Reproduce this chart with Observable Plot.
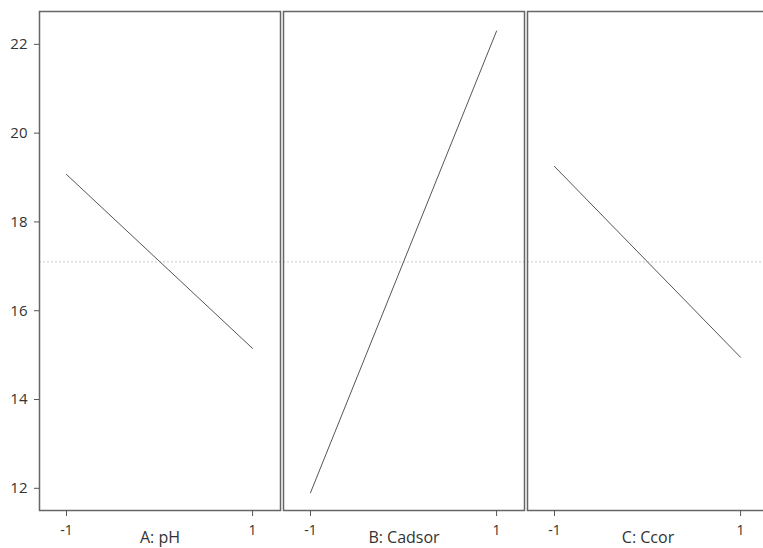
<!DOCTYPE html>
<html>
<head>
<meta charset="utf-8">
<script src="https://cdn.jsdelivr.net/npm/d3@7"></script>
<script src="https://cdn.jsdelivr.net/npm/@observablehq/plot@0.6"></script>
<style>
  html, body { margin: 0; padding: 0; background: #fff; overflow: hidden; }
  #chart { width: 763px; height: 548px; overflow: hidden; }
  #chart svg { max-width: none !important; }
</style>
</head>
<body>
<div id="chart"></div>
<script>
// Factors (one panel each) and their coded levels
const factors = ["A: pH", "B: Cadsor", "C: Ccor"];
const levels = [-1, 1];
// Predicted response at low (-1) and high (+1) levels of each factor
const lowValues = [19.07, 11.9, 19.25];
const highValues = [15.15, 22.3, 14.95];
// Overall mean response (dotted reference line)
const meanValue = 17.1;
// Axis ticks
const yTicks = [12, 14, 16, 18, 20, 22];
const xTicks = [-1, 1];

const data = factors.flatMap((f, i) => [
  {factor: f, level: levels[0], value: lowValues[i]},
  {factor: f, level: levels[1], value: highValues[i]}
]);

const chart = Plot.plot({
  width: 770,
  height: 548,
  marginLeft: 38,
  marginRight: 0,
  marginTop: 11,
  marginBottom: 38,
  style: {fontFamily: "'Open Sans', sans-serif", fontSize: "15px", color: "#333", background: "#fff"},
  fx: {domain: factors, paddingInner: 0.012, paddingOuter: 0, label: null},
  x: {domain: [-1.29, 1.30]},
  y: {domain: [11.5, 22.74]},
  marks: [
    Plot.ruleY([meanValue], {stroke: "#c8c8c8", strokeDasharray: "2,2"}),
    Plot.frame({stroke: "#666", strokeWidth: 1.5}),
    Plot.line(data, {fx: "factor", x: "level", y: "value", stroke: "#555", strokeWidth: 1}),
    Plot.axisY(yTicks, {tickSize: 5, tickPadding: 7, label: null, fontSize: 15, stroke: "#555"}),
    Plot.axisX(xTicks, {tickSize: 6, tickPadding: 9, label: null, fontSize: 14, stroke: "#555", tickFormat: d => String(d)}),
    Plot.axisFx({anchor: "bottom", tickSize: 0, tickPadding: 21, label: null, fontSize: 16})
  ]
});
document.getElementById("chart").appendChild(chart);
</script>
</body>
</html>
